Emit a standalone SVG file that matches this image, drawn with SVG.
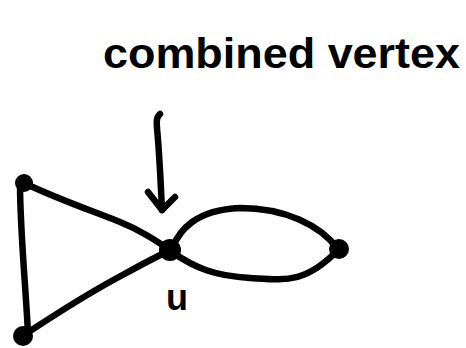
<svg xmlns="http://www.w3.org/2000/svg" width="466" height="348" viewBox="0 0 466 348">
  <style>
    .edge { fill: none; stroke: #000; stroke-width: 6.5; stroke-linecap: round; stroke-linejoin: round; }
    .vertex { fill: #000; }
    .label { font-family: "Liberation Sans", "DejaVu Sans", sans-serif; font-weight: bold; fill: #000; }
  </style>
  <rect width="466" height="348" fill="#fff"/>

  <!-- callout text -->
  <g id="caption">
    <text class="label" x="103" y="68" font-size="43" textLength="357" lengthAdjust="spacingAndGlyphs">combined vertex</text>
  </g>

  <!-- connectors: triangle, loop pair and pointer arrow -->
  <g id="connectors">
    <path class="edge" d="M20 184 C20 230 26 290 28 334"/>
    <path class="edge" d="M24 183 C60 200 90 210 120 222 C140 230 155 240 170 250"/>
    <path class="edge" d="M24 335 C50 318 80 298 117 278 C135 268 150 260 170 250"/>
    <path class="edge" d="M172 248 C180 230 195 210 240 208 C285 208 320 225 338 249"/>
    <path class="edge" d="M172 252 C195 268 215 276 250 278 C285 280 305 284 338 250"/>
    <path class="edge" d="M160 114 C155 118 157 125 158 140 C160 165 161 190 162 210"/>
    <path class="edge" d="M148 192 L162 210 L175 197"/>
  </g>

  <g id="node-top-left"><circle class="vertex" cx="24" cy="183" r="9"/></g>
  <g id="node-bottom-left"><circle class="vertex" cx="23" cy="336" r="10"/></g>
  <g id="node-u">
    <circle class="vertex" cx="170" cy="250" r="11"/>
    <text class="label" x="166" y="310" font-size="36">u</text>
  </g>
  <g id="node-right"><circle class="vertex" cx="339" cy="249" r="10"/></g>
</svg>
